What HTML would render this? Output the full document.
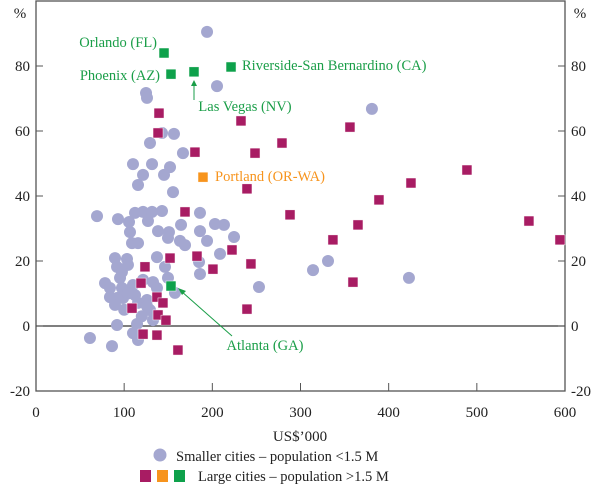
<!DOCTYPE html>
<html><head><meta charset="utf-8"><style>
html,body{margin:0;padding:0;background:#fff;}
svg text{font-family:"Liberation Serif",serif;}
</style></head><body>
<svg id="chart" width="600" height="486" viewBox="0 0 600 486" xmlns="http://www.w3.org/2000/svg">
<g id="axes"></g><g id="marks"></g><g id="annot"></g>
</svg>
<script>
const xTicks=[0,100,200,300,400,500,600];
const yTicks=[-20,0,20,40,60,80];
const smallX=[194,124.8,125.9,205.3,156.5,142.9,129.3,166.7,110,131.6,152,121.4,145.2,115.7,155.4,69.2,93,112.3,121.4,131.6,142.9,127,105.5,106.6,138.4,150.8,149.7,164.5,186,186,203,213.2,224.6,194,163.3,169,108.9,115.7,137.2,146.3,208.7,184.9,186,252.9,89.6,103.2,91.9,104.3,97.5,78.3,83.9,97.5,110,121.4,132.7,137.2,149.7,157.6,91.9,98.7,89.6,112.3,115.7,125.9,129.3,132.7,91.9,114.6,110,115.7,61.2,86.2,381,314.2,331.2,423,83.9,95.3,100,120,104,126];
const smallY=[90.5,71.7,70.2,73.8,59.1,59.4,56.3,53.2,49.8,49.8,48.9,46.5,46.5,43.4,41.2,33.8,32.9,34.8,35.1,35.1,35.4,32.3,32,28.9,29.2,28.9,27.1,31.1,34.8,29.2,31.4,31.1,27.4,26.2,26.2,24.9,25.5,25.5,21.2,18.2,22.2,19.7,16,12,20.9,20.6,18.2,18.8,16.6,13.2,11.7,11.7,12.6,14.2,13.5,11.7,14.8,10.2,8.6,8.6,6.5,9.5,7.1,8,4.9,1.8,0.3,0.6,-2.2,-4.3,-3.7,-6.2,66.8,17.2,20,14.8,8.9,14.8,5,3,10,6];
const largeX=[139.5,138.4,232.5,180.3,248.4,279,356.1,239.3,288.1,488.8,425.3,389,365.2,336.8,559.1,594.3,222.3,243.8,359.5,239.3,169,182.6,152,200.7,123.6,119.1,137.2,144,108.9,138.4,147.4,121.4,137.2,161];
const largeY=[65.5,59.4,63.1,53.5,53.2,56.3,61.2,42.2,34.2,48,44,38.8,31.1,26.5,32.3,26.5,23.4,19.1,13.5,5.2,35.1,21.5,20.9,17.5,18.2,13.2,8.9,7.1,5.5,3.4,1.8,-2.5,-2.8,-7.4];
const greenNames=["Orlando","Phoenix","Las Vegas","Riverside","Atlanta"];
const greenX=[145.2,153.1,179.2,221.2,153.1];
const greenY=[84,77.5,78.2,79.7,12.3];
const orangeX=[189.4];
const orangeY=[45.8];

const L=36,R=565,T=1,B=391;
const sx=v=>L+(v-0)/600*(R-L);
const sy=v=>326-v*3.25;
const NS="http://www.w3.org/2000/svg";
function mk(tag,attrs,parent,txt){const e=document.createElementNS(NS,tag);for(const k in attrs)e.setAttribute(k,attrs[k]);if(txt!==undefined)e.textContent=txt;parent.appendChild(e);return e;}
const axes=document.getElementById('axes'),marks=document.getElementById('marks'),annot=document.getElementById('annot');
let f=mk('rect',{x:L,y:T,width:R-L,height:B-T,fill:'none',stroke:'#555','stroke-width':1.3},axes);


let z=mk('line',{x1:L,x2:R,y1:sy(0),y2:sy(0),stroke:'#333','stroke-width':1.2},axes);


xTicks.forEach(v=>{
 const t=mk('line',{x1:sx(v),x2:sx(v),y1:B,y2:B-8,stroke:'#555','stroke-width':1},axes);
 
 
 const l=mk('text',{x:sx(v),y:417,'text-anchor':'middle','font-size':15,fill:'#222'},axes,String(v));
 
 
});
yTicks.forEach(v=>{
 [[L,L+7,L-6,'end'],[R,R-7,R+6,'start']].forEach(s=>{
  const t=mk('line',{x1:s[0],x2:s[1],y1:sy(v),y2:sy(v),stroke:'#555','stroke-width':1},axes);
  
  
  const l=mk('text',{x:s[2],y:sy(v)+5,'text-anchor':s[3],'font-size':15,fill:'#222'},axes,String(v));
  
  
 });
});
[[20,'middle'],[580,'middle']].forEach(p=>{
 const u=mk('text',{x:p[0],y:18,'text-anchor':p[1],'font-size':15,fill:'#222'},axes,'%');
 
 
});
const xt=mk('text',{x:300,y:441,'text-anchor':'middle','font-size':15,fill:'#222'},axes,'US$’000');



smallX.forEach((v,i)=>{
 const c=mk('circle',{cx:sx(v),cy:sy(smallY[i]),r:6,fill:'#a4a7d0'},marks);
 
 
});
function sq(x,y,col,name){
 const s=mk('rect',{x:sx(x)-5,y:sy(y)-5,width:10,height:10,fill:col,stroke:'#fff','stroke-width':0.5},marks);
 
 
}
largeX.forEach((v,i)=>sq(v,largeY[i],'#a81c63','large-city-point'));
orangeX.forEach((v,i)=>sq(v,orangeY[i],'#f7941d','portland-point'));
greenX.forEach((v,i)=>sq(v,greenY[i],'#0ea14b','highlight-city-point'));

const G='#1a9e48';
function lab(x,y,txt,anchor,col,name){const t=mk('text',{x:x,y:y,'text-anchor':anchor,'font-size':14.5,fill:col},annot,txt);}
lab(157,47,'Orlando (FL)','end',G,'label-orlando');
lab(160,80,'Phoenix (AZ)','end',G,'label-phoenix');
lab(245,111,'Las Vegas (NV)','middle',G,'label-las-vegas');
lab(242,70,'Riverside-San Bernardino (CA)','start',G,'label-riverside');
lab(215,181,'Portland (OR-WA)','start','#f7941d','label-portland');
lab(265,350,'Atlanta (GA)','middle',G,'label-atlanta');
let a1=mk('line',{x1:sx(greenX[2]),y1:100,x2:sx(greenX[2]),y2:84,stroke:G,'stroke-width':1},annot);


mk('path',{d:`M${sx(greenX[2])-3},86 L${sx(greenX[2])},80 L${sx(greenX[2])+3},86 Z`,fill:G},annot);
let a2=mk('line',{x1:232,y1:336,x2:181,y2:291,stroke:G,'stroke-width':1},annot);


mk('path',{d:'M178,288 L186,291 L182,295 Z',fill:G},annot);

const lg=mk('g',{},annot);


let lc=mk('circle',{cx:160,cy:455,r:6.5,fill:'#a4a7d0'},lg);


lab(176,461,'Smaller cities – population <1.5 M','start','#222','legend-small-text');
['#a81c63','#f7941d','#0ea14b'].forEach((c,i)=>{
 const r=mk('rect',{x:140+i*17,y:470,width:11,height:12,fill:c},lg);
 
 
});
lab(198,481,'Large cities – population >1.5 M','start','#222','legend-large-text');
</script>
</body></html>
